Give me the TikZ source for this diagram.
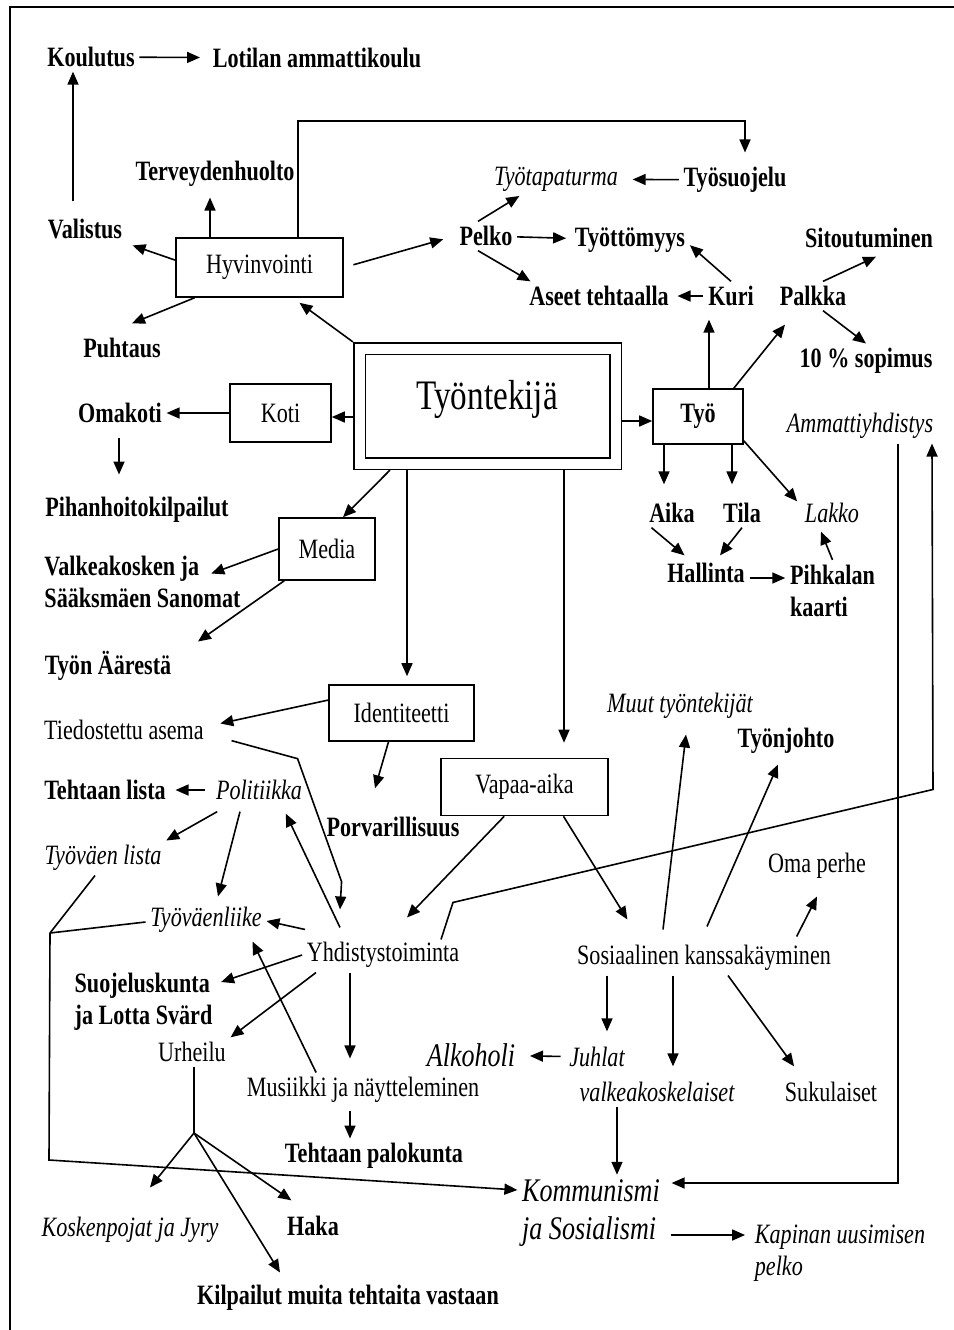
\documentclass[tikz,border=0pt]{standalone}
\usepackage{fontspec}
\setmainfont{Liberation Serif}[FakeStretch=0.79]
\usetikzlibrary{arrows.meta}
\begin{document}
\begin{tikzpicture}[x=0.5pt,y=-0.5pt,line width=0.8pt,
    arr/.style={-{Triangle[length=6.5pt,width=5.5pt]}},
    txt/.style={inner sep=2pt,font=\fontsize{14}{16}\selectfont},
    bld/.style={txt,font=\fontsize{14}{16}\selectfont\bfseries},
    itl/.style={txt,font=\fontsize{14}{16}\selectfont\itshape},
    big/.style={txt,font=\fontsize{16.5}{19}\selectfont\itshape},
    box/.style={draw,inner sep=0pt,font=\fontsize{14}{16}\selectfont}]
    \useasboundingbox (0,0) rectangle (954,1330);
    \draw[line width=1.2pt] (10,1330) -- (10,7) -- (954,7);

    \node[draw,double,double distance=5pt,outer sep=3.3pt,minimum width=128pt,minimum height=57.5pt] (worker) at (487.5,406) {};
    \node[font=\fontsize{21}{25}\selectfont] (workerlbl) at (487,399) {Työntekijä};
    \node[box,minimum width=83.5pt,minimum height=29.5pt] (hyv) at (259.5,267.5) {Hyvinvointi};
    \node[box,minimum width=50.5pt,minimum height=29pt] (koti) at (280.5,413) {Koti};
    \node[box,minimum width=48pt,minimum height=31pt] (media) at (327,549) {Media};
    \node[box,minimum width=72.5pt,minimum height=28pt] (ident) at (401.5,713) {Identiteetti};
    \node[box,minimum width=83.5pt,minimum height=28.5pt] (vapaa) at (524.5,787) {Vapaa-aika};
    \node[box,font=\fontsize{14}{16}\selectfont\bfseries,minimum width=45pt,minimum height=27.5pt] (tyo) at (698,416.5) {Työ};

    \node[bld] (koulutus) at (91,57) {Koulutus};
    \node[bld] (lotilan) at (317,58) {Lotilan ammattikoulu};
    \node[bld] (tervey) at (215,174) {Terveydenhuolto};
    \node[bld] (valistus) at (85,229) {Valistus};
    \node[bld] (puhtaus) at (122,348) {Puhtaus};
    \node[bld] (pelko) at (486,236) {Pelko};
    \node[itl] (tyotap) at (556,179) {Työtapaturma};
    \node[bld] (tyosuoj) at (735,180) {Työsuojelu};
    \node[bld] (tyottom) at (630,240) {Työttömyys};
    \node[bld] (aseet) at (599,296) {Aseet tehtaalla};
    \node[bld] (kuri) at (731,296) {Kuri};
    \node[bld] (palkka) at (813,296) {Palkka};
    \node[bld] (sitout) at (869,238) {Sitoutuminen};
    \node[bld] (sopimus) at (866,361) {10 \% sopimus};
    \node[bld] (omakoti) at (120,413) {Omakoti};
    \node[bld] (pihan) at (137,510) {Pihanhoitokilpailut};
    \node[bld,align=left] (valk) at (142.5,581.5) {Valkeakosken ja\\Sääksmäen Sanomat};
    \node[bld] (aarest) at (108,666) {Työn Äärestä};
    \node[itl] (ammatti) at (860,426) {Ammattiyhdistys};
    \node[bld] (aika) at (672,513) {Aika};
    \node[bld] (tila) at (742,513) {Tila};
    \node[itl] (lakko) at (832,513) {Lakko};
    \node[bld] (hallinta) at (706,573) {Hallinta};
    \node[bld,align=left] (pihk) at (832.5,590.5) {Pihkalan\\kaarti};
    \node[txt] (tiedost) at (124,730) {Tiedostettu asema};
    \node[bld] (tlista) at (105,790) {Tehtaan lista};
    \node[itl] (politi) at (259,790) {Politiikka};
    \node[bld] (porvar) at (393,827) {Porvarillisuus};
    \node[itl] (tyolista) at (103,858) {Työväen lista};
    \node[itl] (tyovl) at (206,920) {Työväenliike};
    \node[txt] (yhdist) at (383,955) {Yhdistystoiminta};
    \node[itl] (muut) at (680,706) {Muut työntekijät};
    \node[bld] (tyonj) at (786,741) {Työnjohto};
    \node[txt] (omaperhe) at (817,866) {Oma perhe};
    \node[txt] (sosial) at (704,958) {Sosiaalinen kanssakäyminen};
    \node[bld,align=left] (suojel) at (143.5,1001.5) {Suojeluskunta\\ja Lotta Svärd};
    \node[txt] (urheilu) at (192,1052) {Urheilu};
    \node[txt] (musiikki) at (363,1090) {Musiikki ja näytteleminen};
    \node[bld] (palok) at (374,1156) {Tehtaan palokunta};
    \node[big] (alkoholi) at (471,1055) {Alkoholi};
    \node[itl] (juhlat) at (597,1057) {Juhlat};
    \node[itl] (locals) at (657,1092) {valkeakoskelaiset};
    \node[txt] (sukul) at (831,1092) {Sukulaiset};
    \node[itl] (koskenp) at (130,1230) {Koskenpojat ja Jyry};
    \node[bld] (haka) at (313,1226) {Haka};
    \node[bld] (kilp) at (348,1298) {Kilpailut muita tehtaita vastaan};
    \node[big,align=left] (komm) at (591,1213) {Kommunismi\\ja Sosialismi};
    \node[itl,align=left] (kapinan) at (840,1253.5) {Kapinan uusimisen\\pelko};

    \coordinate (listjoin) at (50,933);
    \coordinate (listcorner) at (49,1160);
    \coordinate (ufork) at (194,1133);

    \draw[arr,shorten >=4pt] (koulutus) -- (lotilan);
    \draw[arr,shorten <=6.5pt] ([xshift=-6pt]valistus.north) -- ([xshift=-9pt]koulutus.south);
    \draw[arr,shorten >=3pt] ([xshift=-24.75pt]hyv.north) -- ([xshift=-2.5pt]tervey.south);
    \draw[arr,shorten >=3pt] (hyv.175) -- (valistus);
    \draw[arr] (hyv.-155) -- ([xshift=5pt,yshift=5pt]puhtaus.north);
    \draw[arr,shorten <=5pt,shorten >=6pt] (hyv.east) -- (pelko.west);
    \draw[arr,shorten >=5pt] ([xshift=19.25pt]hyv.north) -- ++(0,-116) -| ([xshift=5pt]tyosuoj.north);
    \draw[arr,shorten >=5pt] (tyosuoj) -- (tyotap);
    \draw[arr] ([xshift=-4pt]pelko.north) -- ([xshift=15pt]tyotap.south west);
    \draw[arr,shorten >=2pt] (pelko) -- (tyottom);
    \draw[arr] ([xshift=-4pt]pelko.south) -- ([xshift=3pt]aseet.north west);
    \draw[arr,shorten >=2pt] (kuri) -- (aseet);
    \draw[arr] (kuri.north) -- ([yshift=6pt]tyottom.south east);
    \draw[arr,shorten >=4.5pt] ([xshift=5.5pt]tyo.north) -- ([xshift=-11pt]kuri.south);
    \draw[arr] ([xshift=-5pt]tyo.north east) -- ([xshift=5pt,yshift=-7pt]palkka.south west);
    \draw[arr] ([xshift=5pt]palkka.north) -- ([xshift=3.5pt,yshift=-2pt]sitout.south);
    \draw[arr] ([xshift=5pt]palkka.south) -- (sopimus.north);

    \draw[arr] (worker.north west) -- ([xshift=20pt,yshift=-2.5pt]hyv.south);
    \draw[arr] ([yshift=-5.5pt]worker.west) -- ([yshift=-2pt]koti.east);
    \draw[arr] ([yshift=-7.5pt]worker.east) -- ([yshift=-2.25pt]tyo.west);
    \draw[arr] ([xshift=-48.75pt]worker.south) -- ([xshift=8pt]media.north);
    \draw[arr,shorten >=4pt] ([xshift=-40.25pt]worker.south) -- ([xshift=2.75pt]ident.north);
    \draw[arr,shorten >=7.5pt] ([xshift=38.25pt]worker.south) -- ([xshift=19.75pt]vapaa.north);

    \draw[arr] (koti) -- (omakoti);
    \draw[arr,shorten <=5pt,shorten >=9pt] ([xshift=-0.5pt]omakoti.south) -- ([xshift=-9pt]pihan.north);
    \draw[arr] (media.west) -- ([xshift=-17pt,yshift=4pt]valk.east);
    \draw[arr] ([xshift=3pt]media.south west) -- ([xshift=11pt,yshift=2.5pt]aarest.north east);

    \draw[arr,shorten >=6pt] (ident.170) -- ([yshift=2pt]tiedost.east);
    \draw[arr] ([xshift=-6.5pt]ident.south) -- ([xshift=-9pt,yshift=12pt]porvar.north);
    \draw[arr] ([xshift=11.5pt,yshift=2pt]tiedost.south east) -- ++(66,18) -- ++(44,123) -- ([xshift=-21.5pt,yshift=14pt]yhdist.north);
    \draw[arr,shorten <=3pt,shorten >=2.5pt] (politi) -- (tlista);
    \draw[arr] ([xshift=3pt,yshift=-3.5pt]politi.south west) -- (tyolista.north east);
    \draw[arr] ([xshift=-9.5pt,yshift=-3.5pt]politi.south) -- ([xshift=6pt,yshift=3pt]tyovl.north);
    \draw[arr] ([xshift=-21.5pt,yshift=5pt]yhdist.north) -- ([xshift=-10.5pt,yshift=-4.5pt]politi.south east);
    \draw[arr] ([xshift=1.5pt,yshift=4pt]yhdist.north west) -- ([yshift=-0.5pt]tyovl.east);
    \draw ([xshift=-4pt]tyolista.south) -- (listjoin);
    \draw ([yshift=-1pt]tyovl.west) -- (listjoin);
    \draw[arr] (listjoin) -- (listcorner) -- ([yshift=11.5pt]komm.west);

    \draw[arr] (yhdist.west) -- ([xshift=2pt,yshift=-7pt]suojel.north east);
    \draw[arr] ([xshift=7pt]yhdist.south west) -- (urheilu.north east);
    \draw[arr,shorten >=7pt] ([xshift=-16.5pt]yhdist.south) -- ([xshift=-6.5pt]musiikki.north);
    \draw[arr] ([xshift=37pt]musiikki.north west) -- ([xshift=-7pt,yshift=-2pt]tyovl.south east);
    \draw[arr,shorten <=1.5pt] ([xshift=-6.5pt]musiikki.south) -- ([xshift=-12pt]palok.north);
    \draw ([xshift=1pt]urheilu.south) -- (ufork);
    \draw[arr] (ufork) -- ([xshift=10pt,yshift=12.5pt]koskenp.north);
    \draw[arr] (ufork) -- ([xshift=4.5pt,yshift=5.5pt]haka.north west);
    \draw[arr] (ufork) -- ([xshift=-34pt,yshift=4pt]kilp.north);
    \draw[arr] ([xshift=-11.5pt,yshift=-1pt]yhdist.north east) -- ++(12,-37) -- ++(480,-113) -- ([xshift=36pt]ammatti.south);

    \draw[arr] ([xshift=32pt]vapaa.south west) -- ([xshift=12pt,yshift=10pt]yhdist.north);
    \draw[arr] ([xshift=19.5pt]vapaa.south) -- ([xshift=27.5pt,yshift=10.5pt]sosial.north west);
    \draw[arr] ([xshift=-20.5pt,yshift=5.5pt]sosial.north) -- ([xshift=3pt,yshift=-5.5pt]muut.south);
    \draw[arr] ([xshift=1.5pt,yshift=7pt]sosial.north) -- ([xshift=-4pt,yshift=-3pt]tyonj.south);
    \draw[arr] ([xshift=-19.5pt,yshift=2pt]sosial.north east) -- ([yshift=-6.5pt]omaperhe.south);
    \draw[arr,shorten >=5.5pt] ([xshift=-48.5pt]sosial.south) -- ([xshift=5pt]juhlat.north);
    \draw[arr,shorten >=5.5pt] ([xshift=-15.5pt]sosial.south) -- ([xshift=8pt]locals.north);
    \draw[arr] ([xshift=12pt]sosial.south) -- ([xshift=7pt,yshift=5.5pt]sukul.north west);
    \draw[arr,shorten <=2pt,shorten >=5pt] (juhlat) -- (alkoholi);
    \draw[arr] ([xshift=-20pt]locals.south) -- ([xshift=13pt]komm.north);
    \draw[arr,shorten <=3pt,shorten >=2.5pt] ([yshift=-11pt]komm.east) -- ([yshift=9.25pt]kapinan.west);
    \draw[arr,shorten >=3.5pt] ([xshift=19pt]ammatti.south) |- ([yshift=15pt]komm.east);

    \draw[arr,shorten >=7pt] ([xshift=-17pt]tyo.south) -- ([xshift=-4pt]aika.north);
    \draw[arr,shorten >=7pt] ([xshift=17pt]tyo.south) -- ([xshift=-5pt]tila.north);
    \draw[arr] ([yshift=2pt]tyo.south east) -- ([xshift=-1.5pt,yshift=-1.5pt]lakko.north west);
    \draw[arr] ([xshift=3.5pt]aika.south west) -- ([xshift=11pt,yshift=1.5pt]hallinta.north west);
    \draw[arr] (tila.south) -- ([xshift=7pt,yshift=1.5pt]hallinta.north);
    \draw[arr] ([yshift=-2.5pt]hallinta.east) -- ([yshift=6.25pt]pihk.west);
    \draw[arr] (pihk.north) -- ([xshift=-5.5pt,yshift=-2pt]lakko.south);
\end{tikzpicture}
\end{document}
